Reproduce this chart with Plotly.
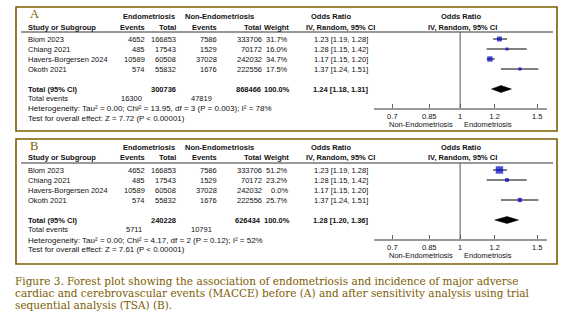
import math
import plotly.graph_objects as go

W, H = 567, 332
SANS = "Liberation Sans, Arial, sans-serif"
SERIF = "DejaVu Serif, Georgia, serif"
BROWN = "#7d5c00"

# ---- study data ----
studies = ["Blom 2023", "Chiang 2021", "Havers-Borgersen 2024", "Okoth 2021"]
endo_events = [4652, 485, 10589, 574]
endo_total = [166853, 17543, 60508, 55832]
non_events = [7586, 1529, 37028, 1676]
non_total = [333706, 70172, 242032, 222556]
or_est = [1.23, 1.28, 1.17, 1.37]
or_low = [1.19, 1.15, 1.15, 1.24]
or_high = [1.28, 1.42, 1.20, 1.51]

# weights per analysis: A = all studies, B = after sensitivity analysis
weights_a = [31.7, 16.0, 34.7, 17.5]
weights_b = [51.2, 23.2, 0.0, 25.7]

# ---- pooled results per panel ----
panel_labels = ["A", "B"]
total_endo = [300736, 240228]
total_non = [868466, 626434]
total_weight = [100.0, 100.0]
events_endo = [16300, 5711]
events_non = [47819, 10791]
pooled_est = [1.24, 1.28]
pooled_low = [1.18, 1.20]
pooled_high = [1.31, 1.36]
heterogeneity = [
    "Heterogeneity: Tau² = 0.00; Chi² = 13.95, df = 3 (P = 0.003); I² = 78%",
    "Heterogeneity: Tau² = 0.00; Chi² = 4.17, df = 2 (P = 0.12); I² = 52%",
]
overall_effect = [
    "Test for overall effect: Z = 7.72 (P < 0.00001)",
    "Test for overall effect: Z = 7.61 (P < 0.00001)",
]

tick_vals = [0.7, 0.85, 1, 1.2, 1.5]
tick_text = ["0.7", "0.85", "1", "1.2", "1.5"]
favours = ["Non-Endometriosis", "Endometriosis"]

caption = [
    "Figure 3. Forest plot showing the association of endometriosis and incidence of major adverse",
    "cardiac and cerebrovascular events (MACCE) before (A) and after sensitivity analysis using trial",
    "sequential analysis (TSA) (B).",
]

# ---- layout geometry (pixels) ----
panel_top = [7, 139]
panel_bottom = [131, 264]
panel_shift = [0, 131]
BOX_L, BOX_R = 16, 557
HDR1, HDR2, HLINE = 16.5, 27, 32
ROW0, ROW_STEP = 39, 10
TOTAL_ROW = 5
AXIS_Y = 108
FOREST_L, FOREST_R = 374, 547
OR_RANGE = [math.log10(0.6356), math.log10(1.58)]

COL_STUDY = 27
COL_EE, COL_ET, COL_NE, COL_NT, COL_W = 146, 177, 218, 263, 289
COL_OR = 341
COL_FOREST = 461

fig = go.Figure()


def add_text(x, y, s, anchor="left", size=7.5, bold=False, color="#111", family=SANS):
    fig.add_annotation(
        x=x / W, y=1 - y / H, xref="paper", yref="paper",
        text=f"<b>{s}</b>" if bold else s, showarrow=False,
        xanchor=anchor, yanchor="middle", borderpad=0,
        font=dict(size=size, color=color, family=family),
    )


def hline(x0, x1, y, color, width):
    fig.add_shape(type="line", xref="paper", yref="paper",
                  x0=x0 / W, x1=x1 / W, y0=1 - y / H, y1=1 - y / H,
                  line=dict(color=color, width=width))


for p, weights in enumerate([weights_a, weights_b]):
    dy = panel_shift[p]
    xa = "x" if p == 0 else "x2"
    ya = "y" if p == 0 else "y2"
    row_px = lambda r: ROW0 + dy + ROW_STEP * r

    # frame
    fig.add_shape(type="rect", xref="paper", yref="paper",
                  x0=BOX_L / W, x1=BOX_R / W,
                  y0=1 - panel_bottom[p] / H, y1=1 - panel_top[p] / H,
                  line=dict(color=BROWN, width=1.6), fillcolor="rgba(0,0,0,0)")

    # headers
    add_text(29, 14.5 + dy, panel_labels[p], size=12.5, color=BROWN,
             family="Liberation Serif, Times New Roman, serif")
    add_text(149, HDR1 + dy, "Endometriosis", "center", bold=True)
    add_text(219, HDR1 + dy, "Non-Endometriosis", "center", bold=True)
    add_text(331, HDR1 + dy, "Odds Ratio", "center", bold=True)
    add_text(COL_FOREST, HDR1 + dy, "Odds Ratio", "center", bold=True)
    add_text(COL_STUDY, HDR2 + dy, "Study or Subgroup", bold=True)
    add_text(COL_EE, HDR2 + dy, "Events", "right", bold=True)
    add_text(COL_ET, HDR2 + dy, "Total", "right", bold=True)
    add_text(COL_NE, HDR2 + dy, "Events", "right", bold=True)
    add_text(COL_NT - 1, HDR2 + dy, "Total", "right", bold=True)
    add_text(COL_W + 1, HDR2 + dy, "Weight", "right", bold=True)
    add_text(340, HDR2 + dy, "IV, Random, 95% CI", "center", bold=True)
    add_text(COL_FOREST + 1, HDR2 + dy, "IV, Random, 95% CI", "center", bold=True)
    hline(21, 553, HLINE + dy, "#777", 1.4)

    # study rows
    for i, name in enumerate(studies):
        y = row_px(i)
        add_text(COL_STUDY, y, name)
        add_text(COL_EE, y, str(endo_events[i]), "right")
        add_text(COL_ET, y, str(endo_total[i]), "right")
        add_text(COL_NE, y, str(non_events[i]), "right")
        add_text(COL_NT, y, str(non_total[i]), "right")
        add_text(COL_W, y, f"{weights[i]:.1f}%", "right")
        add_text(COL_OR, y, f"{or_est[i]:.2f} [{or_low[i]:.2f}, {or_high[i]:.2f}]", "center")

    # pooled row
    y = row_px(TOTAL_ROW)
    add_text(COL_STUDY, y, "Total (95% CI)", bold=True)
    add_text(COL_ET, y, str(total_endo[p]), "right", bold=True)
    add_text(COL_NT - 1, y, str(total_non[p]), "right", bold=True)
    add_text(COL_W + 2, y, f"{total_weight[p]:.1f}%", "right", bold=True)
    add_text(COL_OR, y, f"{pooled_est[p]:.2f} [{pooled_low[p]:.2f}, {pooled_high[p]:.2f}]",
             "center", bold=True)

    add_text(COL_STUDY, 99 + dy, "Total events")
    add_text(143, 99 + dy, str(events_endo[p]), "right")
    add_text(213, 99 + dy, str(events_non[p]), "right")
    add_text(COL_STUDY, 109 + dy, heterogeneity[p], size=8.0)
    add_text(COL_STUDY, 118.5 + dy, overall_effect[p], size=7.9)

    # forest axis labels
    add_text(421, 124.5 + dy, favours[0], "center")
    add_text(487.5, 124.5 + dy, favours[1], "center")

    # study estimates with confidence intervals (studies with zero weight are not drawn)
    idx = [i for i in range(len(studies)) if weights[i] > 0]
    fig.add_trace(go.Scatter(
        x=[or_est[i] for i in idx], y=[i for i in idx],
        xaxis=xa, yaxis=ya, mode="markers",
        marker=dict(symbol="square", color="#0000cc",
                    size=[1 + 0.125 * weights[i] for i in idx], line=dict(width=0)),
        error_x=dict(type="data", symmetric=False,
                     array=[or_high[i] - or_est[i] for i in idx],
                     arrayminus=[or_est[i] - or_low[i] for i in idx],
                     color="#000", thickness=1, width=0),
        showlegend=False, hoverinfo="skip", cliponaxis=False,
    ))

    # pooled diamond
    half = 0.35
    fig.add_trace(go.Scatter(
        x=[pooled_low[p], pooled_est[p], pooled_high[p], pooled_est[p], pooled_low[p]],
        y=[TOTAL_ROW, TOTAL_ROW - half, TOTAL_ROW, TOTAL_ROW + half, TOTAL_ROW],
        xaxis=xa, yaxis=ya, mode="lines", fill="toself", fillcolor="#000",
        line=dict(color="#000", width=0.5), showlegend=False, hoverinfo="skip",
    ))

    # line of no effect
    fig.add_shape(type="line", xref=xa, yref=f"{ya} domain", x0=1, x1=1, y0=0, y1=1,
                  line=dict(color="#555", width=1))

    axis_px = AXIS_Y + dy
    top_px = HLINE + dy
    xcfg = dict(type="log", range=OR_RANGE, domain=[FOREST_L / W, FOREST_R / W],
                anchor=ya, showline=True, linecolor="#999", linewidth=2,
                ticks="inside", ticklen=4, tickcolor="#666", tickwidth=1,
                tickvals=tick_vals, ticktext=tick_text,
                tickfont=dict(size=7.5, color="#111", family=SANS),
                showgrid=False, zeroline=False, fixedrange=True)
    ycfg = dict(domain=[1 - axis_px / H, 1 - top_px / H],
                range=[(AXIS_Y - ROW0) / ROW_STEP, (HLINE - ROW0) / ROW_STEP],
                anchor=xa, visible=False, fixedrange=True)
    if p == 0:
        fig.update_layout(xaxis=xcfg, yaxis=ycfg)
    else:
        fig.update_layout(xaxis2=xcfg, yaxis2=ycfg)

# caption
for k, line in enumerate(caption):
    add_text(14, 280.5 + 12 * k, line, size=10.5, color=BROWN, family=SERIF)

fig.update_layout(
    width=W, height=H, margin=dict(l=0, r=0, t=0, b=0),
    paper_bgcolor="white", plot_bgcolor="rgba(0,0,0,0)",
)

fig.write_html("out.html")
